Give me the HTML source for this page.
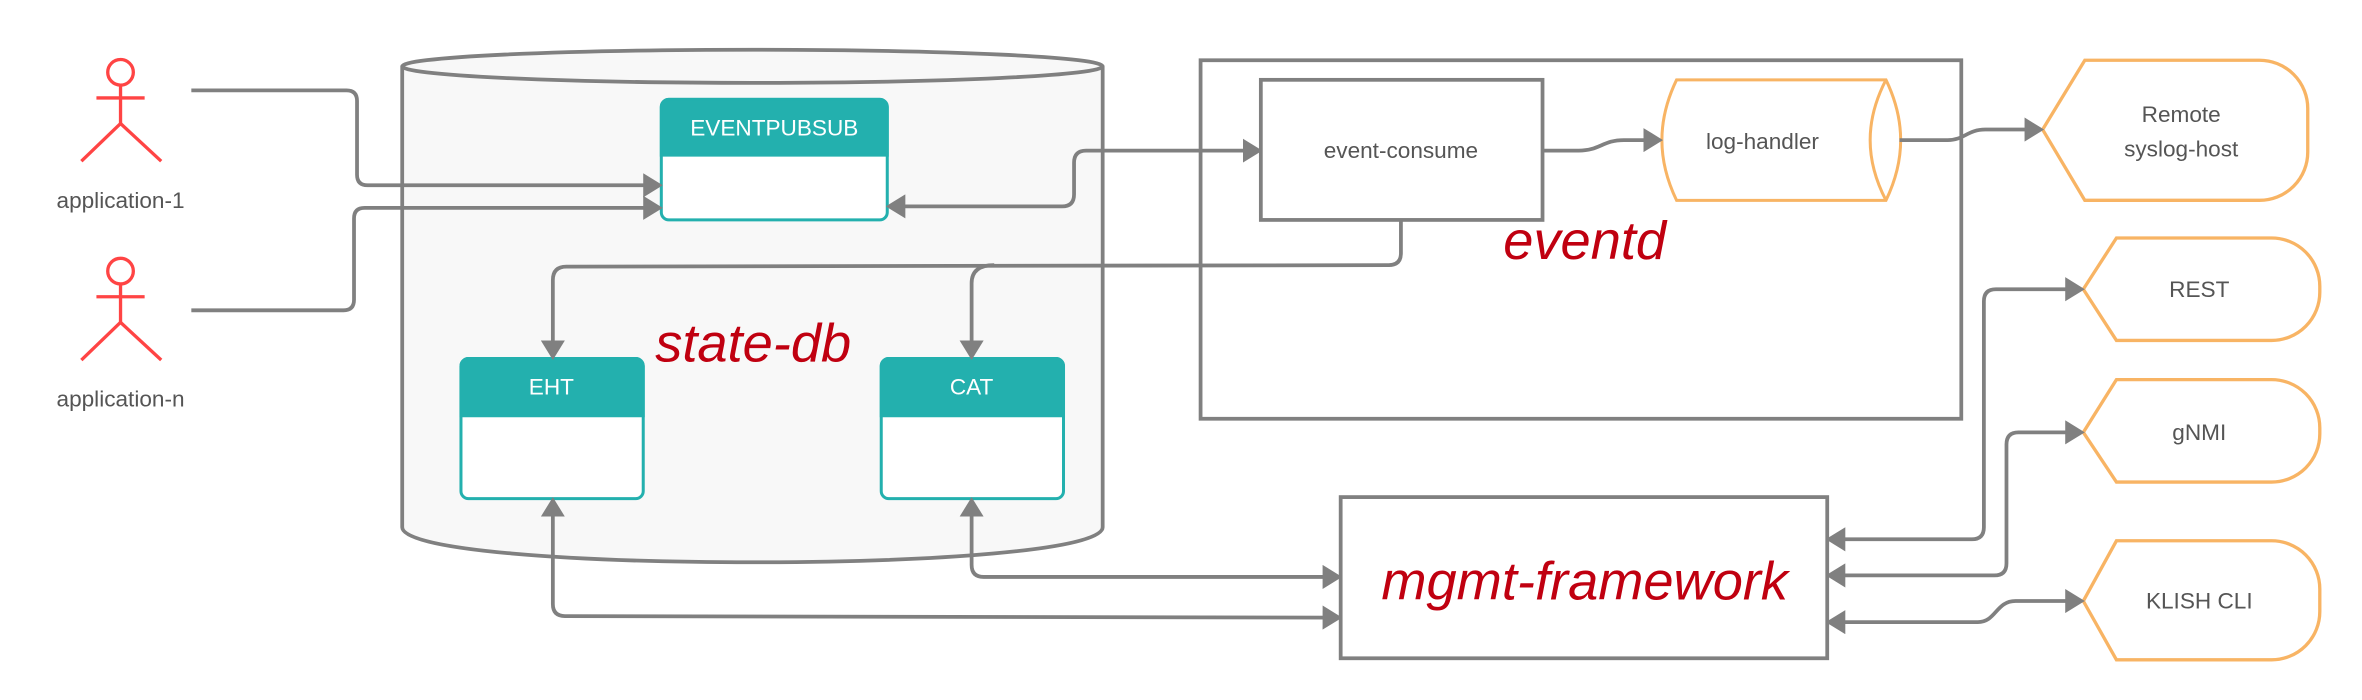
<!DOCTYPE html>
<html><head><meta charset="utf-8"><style>
html,body{margin:0;padding:0;background:#fff;}
svg{display:block;}
text{font-family:"Liberation Sans",sans-serif;}
</style></head><body>
<svg width="2362" height="700" viewBox="0 0 1568 464.7" xmlns="http://www.w3.org/2000/svg">
<defs>
<marker id="a" markerWidth="13" markerHeight="16" refX="10" refY="8" orient="auto-start-reverse" markerUnits="userSpaceOnUse" viewBox="0 0 13 16">
<path d="M0,0 L13,8 L0,16 Z" fill="#808080"/>
</marker>
</defs>
<rect width="1568" height="465" fill="#fff"/>
<!-- actors -->
<g stroke="#f44" stroke-width="2.2" fill="none">
<circle cx="80" cy="48" r="8.5"/><line x1="80" y1="56.5" x2="80" y2="82"/><line x1="64" y1="65" x2="96" y2="65"/><line x1="80" y1="82" x2="54" y2="107"/><line x1="80" y1="82" x2="107" y2="107"/>
<circle cx="80" cy="180" r="8.5"/><line x1="80" y1="188.5" x2="80" y2="214"/><line x1="64" y1="197" x2="96" y2="197"/><line x1="80" y1="214" x2="54" y2="239"/><line x1="80" y1="214" x2="107" y2="239"/>
</g>
<text x="80" y="138" font-size="15" fill="#555" text-anchor="middle">application-1</text>
<text x="80" y="270" font-size="15" fill="#555" text-anchor="middle">application-n</text>
<!-- cylinder -->
<path d="M267,44 V350 C267,381 732,381 732,350 V44" fill="#f8f8f8" stroke="#808080" stroke-width="2.5"/>
<ellipse cx="499.5" cy="44" rx="232.5" ry="11" fill="#f8f8f8" stroke="#808080" stroke-width="2.5"/>
<!-- tables -->
<g stroke="#23b0ae" stroke-width="2">
<rect x="439" y="66" width="150" height="80" rx="5" fill="#fff"/>
<path d="M439,103 V71 a5,5 0 0 1 5,-5 H584 a5,5 0 0 1 5,5 V103 Z" fill="#23b0ae"/>
<rect x="306" y="238" width="121" height="93" rx="5" fill="#fff"/>
<path d="M306,276 V243 a5,5 0 0 1 5,-5 H422 a5,5 0 0 1 5,5 V276 Z" fill="#23b0ae"/>
<rect x="585" y="238" width="121" height="93" rx="5" fill="#fff"/>
<path d="M585,276 V243 a5,5 0 0 1 5,-5 H701 a5,5 0 0 1 5,5 V276 Z" fill="#23b0ae"/>
</g>
<g fill="#fff" font-size="15" text-anchor="middle">
<text x="514" y="90">EVENTPUBSUB</text>
<text x="366" y="262">EHT</text>
<text x="645" y="262">CAT</text>
</g>
<text x="500" y="240" font-size="36" font-style="italic" fill="#c00010" text-anchor="middle">state-db</text>
<!-- eventd -->
<rect x="797" y="40" width="505" height="238" fill="none" stroke="#808080" stroke-width="2.5"/>
<rect x="837" y="53" width="187" height="93" fill="#fff" stroke="#808080" stroke-width="2.5"/>
<text x="930" y="105" font-size="15" fill="#555" text-anchor="middle">event-consume</text>
<text x="1052" y="172" font-size="36" font-style="italic" fill="#c00010" text-anchor="middle">eventd</text>
<path d="M1113,53 H1252 C1265,80 1265,106 1252,133 H1113 C1100,106 1100,80 1113,53 Z" fill="#fff" stroke="#f8b464" stroke-width="2"/>
<path d="M1252,53 C1238,80 1238,106 1252,133" fill="none" stroke="#f8b464" stroke-width="2"/>
<text x="1170" y="99" font-size="15" fill="#555" text-anchor="middle">log-handler</text>
<!-- orange displays -->
<g fill="#fff" stroke="#f8b464" stroke-width="2.2">
<path d="M1384,40 H1500 a32,32 0 0 1 32,32 V101 a32,32 0 0 1 -32,32 H1384 L1356,86 Z"/>
<path d="M1405,158 H1508 a32,32 0 0 1 32,32 V194 a32,32 0 0 1 -32,32 H1405 L1383,192 Z"/>
<path d="M1405,252 H1508 a32,32 0 0 1 32,32 V288 a32,32 0 0 1 -32,32 H1405 L1383,287 Z"/>
<path d="M1405,359 H1508 a32,32 0 0 1 32,32 V406 a32,32 0 0 1 -32,32 H1405 L1383,399 Z"/>
</g>
<g font-size="15" fill="#555" text-anchor="middle">
<text x="1448" y="81">Remote</text><text x="1448" y="104">syslog-host</text>
<text x="1460" y="197">REST</text>
<text x="1460" y="292">gNMI</text>
<text x="1460" y="404">KLISH CLI</text>
</g>
<!-- mgmt -->
<rect x="890" y="330" width="323" height="107" fill="#fff" stroke="#808080" stroke-width="2.5"/>
<text x="1052" y="398" font-size="36" font-style="italic" fill="#c00010" text-anchor="middle">mgmt-framework</text>
<!-- connectors -->
<g fill="none" stroke="#808080" stroke-width="2.5">
<path d="M127,60 H230 q7,0 7,7 V116 q0,7 7,7 H437" marker-end="url(#a)"/>
<path d="M127,206 H228 q7,0 7,-7 V145 q0,-7 7,-7 H437" marker-end="url(#a)"/>
<path d="M835,100 H721 q-8,0 -8,8 V129 q0,8 -8,8 H591" marker-start="url(#a)" marker-end="url(#a)"/>
<path d="M930,146 V168 q0,8 -8,8 L376,177 q-9,0 -9,9 V236" marker-end="url(#a)"/>
<path d="M660,176 q-15,0 -15,12 V236" marker-end="url(#a)"/>
<path d="M1024,100 H1048 C1062,100 1064,93 1078,93 H1101" marker-end="url(#a)"/>
<path d="M1261,93 H1293 C1304,93 1306,86 1318,86 H1354" marker-end="url(#a)"/>
<path d="M367,333 V401 q0,8 8,8 L888,410" marker-start="url(#a)" marker-end="url(#a)"/>
<path d="M645,333 V375 q0,8 8,8 H888" marker-start="url(#a)" marker-end="url(#a)"/>
<path d="M1215,358 H1309 q8,0 8,-8 V200 q0,-8 8,-8 H1381" marker-start="url(#a)" marker-end="url(#a)"/>
<path d="M1215,382 H1324 q8,0 8,-8 V295 q0,-8 8,-8 H1381" marker-start="url(#a)" marker-end="url(#a)"/>
<path d="M1215,413 H1313 C1325,413 1325,399 1338,399 H1381" marker-start="url(#a)" marker-end="url(#a)"/>
</g>
</svg>
</body></html>
